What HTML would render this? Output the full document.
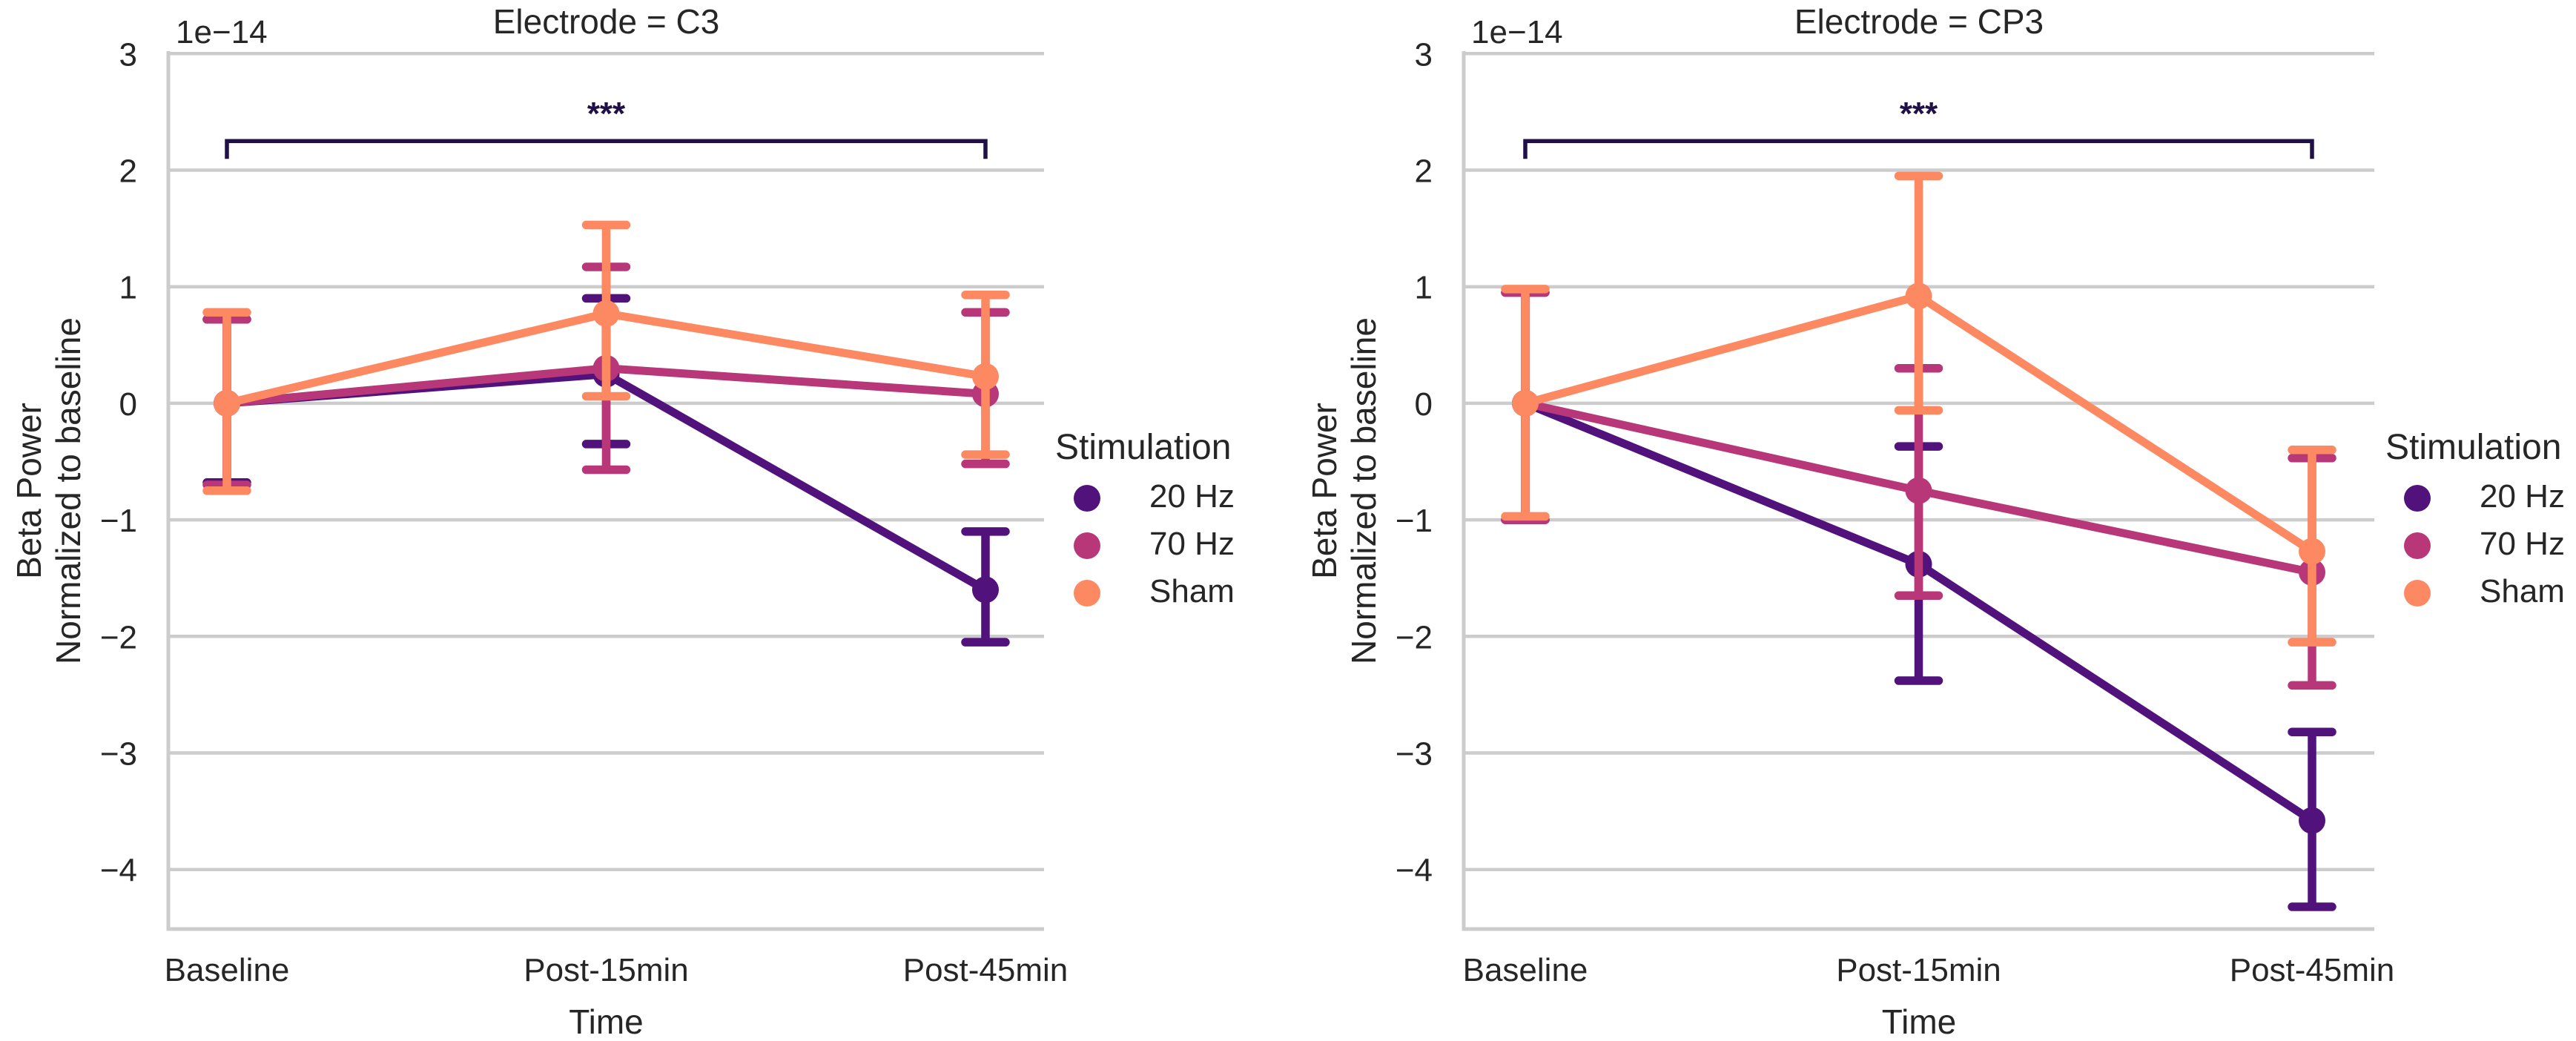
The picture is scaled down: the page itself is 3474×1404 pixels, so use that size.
<!DOCTYPE html>
<html><head><meta charset="utf-8"><style>
html,body{margin:0;padding:0;background:#fff;}
svg{display:block;font-family:"Liberation Sans",Arial,sans-serif;}
</style></head><body>
<svg id="chart" width="3474" height="1404" viewBox="0 0 3474 1404" xmlns="http://www.w3.org/2000/svg"></svg>
<script>
const categories = ["Baseline", "Post-15min", "Post-45min"];
const seriesNames = ["20 Hz", "70 Hz", "Sham"];
const yTicks = [3, 2, 1, 0, -1, -2, -3, -4];
const yTickLabels = ["3", "2", "1", "0", "\u22121", "\u22122", "\u22123", "\u22124"];
// C3 panel (units of 1e-14)
const c3Mean20 = [0, 0.25, -1.6];
const c3Lo20 = [-0.68, -0.35, -2.05];
const c3Hi20 = [0.72, 0.9, -1.1];
const c3Mean70 = [0, 0.3, 0.08];
const c3Lo70 = [-0.7, -0.57, -0.52];
const c3Hi70 = [0.72, 1.17, 0.78];
const c3MeanSham = [0, 0.77, 0.23];
const c3LoSham = [-0.75, 0.06, -0.44];
const c3HiSham = [0.78, 1.53, 0.93];
// CP3 panel
const cp3Mean20 = [0, -1.38, -3.58];
const cp3Lo20 = [-1.0, -2.38, -4.32];
const cp3Hi20 = [0.95, -0.37, -2.82];
const cp3Mean70 = [0, -0.75, -1.45];
const cp3Lo70 = [-1.0, -1.65, -2.42];
const cp3Hi70 = [0.95, 0.3, -0.47];
const cp3MeanSham = [0, 0.92, -1.27];
const cp3LoSham = [-0.97, -0.06, -2.05];
const cp3HiSham = [0.98, 1.95, -0.4];
const bracketLevel = 2.25;

const colors = ["#51127c", "#b73779", "#fc8961"];
const NS = "http://www.w3.org/2000/svg";
const svg = document.getElementById("chart");
function mk(tag, attrs, parent, text) {
  const e = document.createElementNS(NS, tag);
  for (const k in attrs) e.setAttribute(k, attrs[k]);
  if (text !== undefined) e.textContent = text;
  (parent || svg).appendChild(e);
  return e;
}
const yTop = 72.3, unit = 157.2;
function yScale(v) { return yTop + (3 - v) * unit; }

const panels = [
  { key: "c3", title: "Electrode = C3", left: 227, right: 1408, x0: 306, step: 511.5,
    means: [c3Mean20, c3Mean70, c3MeanSham], lo: [c3Lo20, c3Lo70, c3LoSham], hi: [c3Hi20, c3Hi70, c3HiSham] },
  { key: "cp3", title: "Electrode = CP3", left: 1974, right: 3202, x0: 2057, step: 530.5,
    means: [cp3Mean20, cp3Mean70, cp3MeanSham], lo: [cp3Lo20, cp3Lo70, cp3LoSham], hi: [cp3Hi20, cp3Hi70, cp3HiSham] }
];

panels.forEach(p => {
  const g = mk("g", {});
  
  
  const xs = i => p.x0 + i * p.step;
  const bottom = 1253;
  // grid
  yTicks.forEach((t, i) => {
    const gl = mk("line", { x1: p.left, x2: p.right, y1: yScale(t), y2: yScale(t), stroke: "#cccccc", "stroke-width": 4.5 }, g);
    
    
    const tl = mk("text", { x: p.left - 42, y: yScale(t) + 16, "text-anchor": "end", "font-size": 44, fill: "#262626" }, g, yTickLabels[i]);
    
    
  });
  // spines
  const sl = mk("line", { x1: p.left, x2: p.left, y1: 69, y2: bottom + 2.5, stroke: "#cccccc", "stroke-width": 5 }, g);
  
  
  const sb = mk("line", { x1: p.left - 2.5, x2: p.right, y1: bottom, y2: bottom, stroke: "#cccccc", "stroke-width": 5 }, g);
  
  
  // x ticks
  categories.forEach((c, i) => {
    const t = mk("text", { x: xs(i), y: 1323, "text-anchor": "middle", "font-size": 44, fill: "#262626" }, g, c);
    
    
  });
  const cx = (p.left + p.right) / 2;
  const xt = mk("text", { x: cx, y: 1394, "text-anchor": "middle", "font-size": 46, fill: "#262626" }, g, "Time");
  
  
  const tt = mk("text", { x: cx, y: 45, "text-anchor": "middle", "font-size": 46, fill: "#262626" }, g, p.title);
  
  
  const off = mk("text", { x: p.left + 10, y: 58, "font-size": 44, fill: "#262626" }, g, "1e\u221214");
  
  
  const yt = mk("text", { transform: `translate(${p.left - 172},662) rotate(-90)`, "text-anchor": "middle", "font-size": 46, fill: "#262626" }, g);
  
  
  mk("tspan", { x: 0, y: 0 }, yt, "Beta Power");
  mk("tspan", { x: 0, y: 53 }, yt, "Normalized to baseline");
  // series
  for (let s = 0; s < 3; s++) {
    const sg = mk("g", {}, g);
    
    
    const m = p.means[s], lo = p.lo[s], hi = p.hi[s];
    const pts = m.map((v, i) => xs(i) + "," + yScale(v)).join(" ");
    const pl = mk("polyline", { points: pts, fill: "none", stroke: colors[s], "stroke-width": 11, "stroke-linejoin": "round" }, sg);
    
    
    m.forEach((v, i) => {
      const x = xs(i);
      const eb = mk("path", { d: `M${x},${yScale(lo[i])}V${yScale(hi[i])}M${x - 27},${yScale(lo[i])}H${x + 27}M${x - 27},${yScale(hi[i])}H${x + 27}`,
        stroke: colors[s], "stroke-width": 11.5, "stroke-linecap": "round", fill: "none" }, sg);
      
      
      const pt = mk("circle", { cx: x, cy: yScale(v), r: 18, fill: colors[s] }, sg);
      
      
    });
  }
  // bracket
  const by = yScale(bracketLevel);
  const br = mk("path", { d: `M${xs(0)},${by + 24}V${by}H${xs(2)}V${by + 24}`, fill: "none", stroke: "#1f1147", "stroke-width": 5.5 }, g);
  
  
  const st = mk("text", { x: (xs(0) + xs(2)) / 2, y: 168, "text-anchor": "middle", "font-size": 44, "font-weight": "bold", fill: "#1f1147" }, g, "***");
  
  
  // legend
  const lg = mk("g", {}, g);
  
  
  const lx = p.right + 15;
  const lt = mk("text", { x: lx, y: 619, "font-size": 48, fill: "#262626" }, lg, "Stimulation");
  
  
  seriesNames.forEach((n, i) => {
    const yy = 672 + i * 64;
    const lc = mk("circle", { cx: lx + 43, cy: yy, r: 18, fill: colors[i] }, lg);
    
    
    const ltx = mk("text", { x: lx + 127, y: yy + 12, "font-size": 44, fill: "#262626" }, lg, n);
    
    
  });
});
</script>
</body></html>
